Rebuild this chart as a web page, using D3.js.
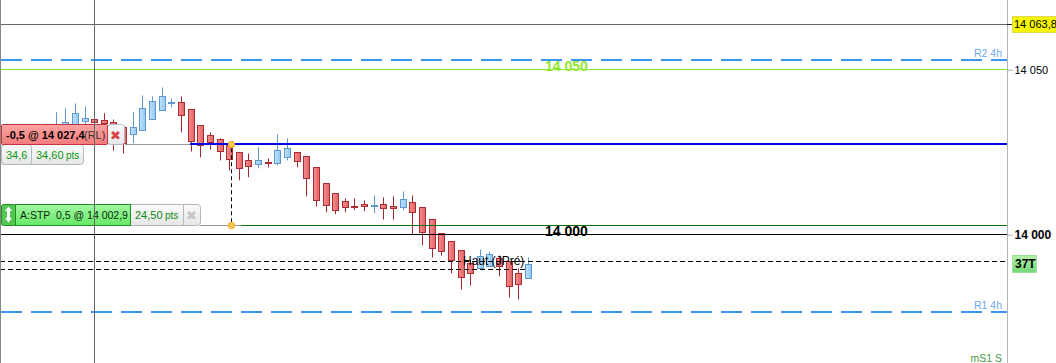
<!DOCTYPE html>
<html>
<head>
<meta charset="utf-8">
<script src="https://cdn.jsdelivr.net/npm/d3@7"></script>
<style>
  html, body { margin: 0; padding: 0; background: #fff; overflow: hidden; }
  svg { display: block; font-family: 'Liberation Sans', Arial, sans-serif; }
</style>
</head>
<body>
<div id="graph"></div>
<script>
// Prices, as points above 14 000
const bars = d3.range(51)
const opens = [31, 30.1, 30, 31.6, 34.3, 34.9, 34.6, 34, 32.5, 30.4, 31.6, 34.9, 37.7, 39.6, 40.1, 38, 33.1, 30.1, 28.9, 27.1, 24.9, 22.5, 21.3, 22, 21.6, 23.4, 24.9, 23.7, 20.4, 15.5, 12.5, 10.1, 8.6, 9.2, 8.6, 9.2, 8.6, 8.3, 9.8, 8.3, 4.6, 0.4, -2, -4.8, -8.7, -10.2, -9.6, -7.2, -8.1, -11.7, -13.2]
const closes = [32.5, 33.1, 34, 36.8, 35.2, 34, 33.7, 28.6, 27.7, 32.5, 38.3, 40.4, 41.9, 40, 36.2, 28.3, 27.1, 28, 25.2, 22.8, 20.1, 20.7, 22.5, 21.8, 25.5, 26.2, 22.2, 17.1, 10.4, 8.9, 7.4, 8.3, 8.3, 8.6, 8.9, 8, 8, 10.7, 6.8, 0.7, -4.2, -5.1, -7.8, -12.9, -11.7, -6.6, -6, -9.6, -15.7, -15.1, -9]
const highs = [33.7, 37.1, 38.3, 39.8, 38.9, 37.7, 36.8, 34.9, 32.5, 37.1, 42.2, 41.9, 44.6, 41.3, 41.9, 38, 33.1, 31, 29.2, 27.1, 24.9, 24.6, 26.5, 23.1, 30.4, 29.2, 24.9, 23.7, 20.4, 15.5, 12.5, 11, 11, 10.4, 11.9, 11.3, 11.6, 13.1, 11.9, 8.3, 4.6, 0.4, -2, -4.8, -7.8, -4.5, -5.1, -6.3, -8.1, -10.2, -6.9]
const lows = [30, 28, 28, 29, 30, 30, 30, 25.5, 24.6, 27.7, 31.6, 34.9, 37.7, 38.6, 31, 25.2, 23.4, 25.8, 22.5, 19.5, 16.5, 17.4, 20.1, 20.4, 21, 22.5, 20.4, 11.6, 8.6, 6.8, 6.2, 6.8, 7.4, 7.1, 6.5, 4.6, 4.6, 7.4, 0.1, -3.2, -6.9, -6.3, -11.7, -16.6, -15.4, -10.2, -9.6, -12.6, -19, -19.6, -13.2]

const axisTicks = [14050, 14000]
const lastHigh = 14063.8
const levelR2 = 14052.8
const levelR1 = 13976.5
const levelMid = 14050
const levelRound = 14000
const orderStop = 14027.4
const orderTarget = 14002.7
const dashedLevels = [13991.9, 13989.5]

const plotRight = 1007
const svg = d3
  .select('#graph')
  .append('svg')
  .attr('width', 1056)
  .attr('height', 363)

const defs = svg.append('defs')
function gradient(id, from, to, horizontal) {
  const g = defs
    .append('linearGradient')
    .attr('id', id)
    .attr('x1', 0)
    .attr('y1', 0)
    .attr('x2', horizontal ? 1 : 0)
    .attr('y2', horizontal ? 0 : 1)
  g.append('stop').attr('offset', 0).attr('stop-color', from)
  g.append('stop').attr('offset', 1).attr('stop-color', to)
}
gradient('downFill', '#f49090', '#e26262', true)
gradient('upFill', '#c0e2fb', '#8fc8f4', true)
gradient('redBox', '#ffa3a3', '#f47c7c', false)
gradient('greenBox', '#a2f8a2', '#66e866', false)
gradient('greyBox', '#fbfbfb', '#e6e6e6', false)
gradient('tagGreen', '#b4f0a8', '#74d878', false)

const x = d3.scalePoint().domain(bars).range([46, 528])
const y = d3.scaleLinear().domain([14000, 14050]).range([234.7, 69.7])
const crisp = (v) => Math.round(y(v) - 0.5) + 0.5
const cx = (i) => Math.round(x(i)) + 0.5

// candles first, the level lines sit on top of them
const candle = svg
  .append('g')
  .selectAll('g')
  .data(bars)
  .join('g')

candle
  .append('line')
  .attr('x1', (i) => cx(i))
  .attr('x2', (i) => cx(i))
  .attr('y1', (i) => y(14000 + highs[i]))
  .attr('y2', (i) => y(14000 + lows[i]))
  .attr('stroke', (i) => (closes[i] >= opens[i] ? '#5f97d0' : '#a3262d'))
  .attr('stroke-width', 1)

candle
  .append('rect')
  .attr('x', (i) => cx(i) - 3)
  .attr('width', 6)
  .attr('y', (i) => crisp(14000 + Math.max(opens[i], closes[i])))
  .attr('height', (i) =>
    Math.max(1, Math.round(Math.abs(opens[i] - closes[i]) * 3.3))
  )
  .attr('fill', (i) => (closes[i] >= opens[i] ? 'url(#upFill)' : 'url(#downFill)'))
  .attr('stroke', (i) => (closes[i] >= opens[i] ? '#5f97d0' : '#ad2c34'))
  .attr('stroke-width', 1)

function level(value, x1, x2, color, width, dash) {
  const ly = width === 2 ? Math.round(y(value)) : crisp(value)
  svg
    .append('line')
    .attr('x1', x1)
    .attr('x2', x2)
    .attr('y1', ly)
    .attr('y2', ly)
    .attr('stroke', color)
    .attr('stroke-width', width)
    .attr('stroke-dasharray', dash || null)
}

level(lastHigh, 0, plotRight, '#666', 1)
level(levelR2, 1, plotRight, '#3b96f0', 2, '21 9')
level(levelMid, 0, plotRight, '#86e82e', 1)
level(orderStop, 125, 241, '#999', 1)
level(orderStop, 190, plotRight, '#0000e6', 2)
level(orderTarget, 200, 241, '#999', 1)
level(orderTarget, 241, plotRight, '#0a6e0a', 1)
level(levelRound, 0, plotRight, '#000', 1)
level(dashedLevels[0], 0, plotRight, '#000', 1, '5 3')
level(dashedLevels[1], 0, 527, '#000', 1, '5 3')
level(levelR1, 1, plotRight, '#3b96f0', 2, '21 9')

// link between the order markers
svg
  .append('line')
  .attr('x1', 231.5)
  .attr('x2', 231.5)
  .attr('y1', y(orderStop) + 4)
  .attr('y2', y(orderTarget) - 3)
  .attr('stroke', '#000')
  .attr('stroke-dasharray', '4 3')

svg
  .selectAll('.marker')
  .data([orderStop, orderTarget])
  .join('circle')
  .attr('class', 'marker')
  .attr('cx', 231.5)
  .attr('cy', (d) => crisp(d))
  .attr('r', 3.2)
  .attr('fill', '#fbc94e')
  .attr('stroke', '#f0a62a')

function label(text, px, py, opts = {}) {
  return svg
    .append('text')
    .attr('x', px)
    .attr('y', py)
    .attr('font-size', opts.size || 11)
    .attr('font-weight', opts.bold ? 'bold' : 'normal')
    .attr('fill', opts.color || '#000')
    .attr('text-anchor', opts.anchor || 'start')
    .text(text)
}

label('14 050', 545, 71, { size: 14, bold: true, color: '#8fe82e' })
label('14 000', 545, 236, { size: 14, bold: true })
label('Haut (JPré)', 463, 265, { size: 12 })
label('R2 4h', 1002, 57, { size: 10.5, color: '#6aa8ee', anchor: 'end' })
label('R1 4h', 1002, 309, { size: 10.5, color: '#6aa8ee', anchor: 'end' })
label('mS1 S', 1002, 362, { size: 10.5, color: '#3f9a3f', anchor: 'end' })

function box(bx, by, w, h, fill, stroke, r) {
  svg
    .append('rect')
    .attr('x', bx + 0.5)
    .attr('y', by + 0.5)
    .attr('width', w)
    .attr('height', h)
    .attr('rx', r || 0)
    .attr('fill', fill)
    .attr('stroke', stroke)
}

// position panel
box(1, 144, 82, 20, 'url(#greyBox)', '#aebabf', 3)
box(1, 144, 30, 20, 'url(#greyBox)', '#aebabf', 3)
box(107, 124, 17, 20, 'url(#greyBox)', '#aebabf', 3)
box(1, 124, 106, 20, 'url(#redBox)', '#c5353d', 1)
label('-0,5 @ 14 027,4', 6, 139, { bold: true })
label('(RL)', 84, 139, { color: '#333' })
label('✖', 115.5, 140, { size: 13, color: '#d8444a', anchor: 'middle' }).style(
  'font-family',
  'DejaVu Sans'
)
label('34,6', 6, 159, { color: '#0d9a12' })
label('34,60', 36, 159, { color: '#0d9a12' })
label('pts', 66, 159, { size: 10, color: '#0d9a12' })

// stop order panel
box(130, 204, 70, 21, 'url(#greyBox)', '#aebabf', 3)
box(130, 204, 53, 21, 'url(#greyBox)', '#aebabf', 0)
box(15, 204, 115, 21, 'url(#greenBox)', '#1c8f1c', 0)
box(1, 204, 14, 21, '#52c852', '#1c8f1c', 2)
svg
  .append('path')
  .attr('d', 'M8.5 206.5 L12 211 H10 V218 H12 L8.5 222.5 L5 218 H7 V211 H5 Z')
  .attr('fill', '#fff')
label('A:STP  0,5 @ 14 002,9', 20, 219, { size: 10.5, color: '#0b2a0b' }).style(
  'white-space',
  'pre'
)
label('24,50', 135, 219, { color: '#0d8a12' })
label('pts', 165, 219, { size: 10, color: '#0d8a12' })
label('✖', 191.5, 220, { size: 13, color: '#c6c6c6', anchor: 'middle' }).style(
  'font-family',
  'DejaVu Sans'
)

// vertical rules
svg.append('line').attr('x1', 0.5).attr('x2', 0.5).attr('y1', 0).attr('y2', 363).attr('stroke', '#888')
svg.append('line').attr('x1', 94.5).attr('x2', 94.5).attr('y1', 0).attr('y2', 363).attr('stroke', '#666')

// price axis
const spaced = d3.formatLocale({
  decimal: ',',
  thousands: ' ',
  grouping: [3],
  currency: ['', ''],
})
const axis = svg
  .append('g')
  .attr('transform', `translate(${plotRight + 0.5},0)`)
  .call(
    d3
      .axisRight(y)
      .tickValues(axisTicks)
      .tickSize(5)
      .tickPadding(2)
      .tickFormat(spaced.format(',.0f'))
  )
axis.select('.domain').attr('d', 'M0,0V363').attr('stroke', '#b5b5b5')
axis.selectAll('.tick line').attr('stroke', '#aaa')
axis
  .selectAll('.tick text')
  .attr('font-family', 'Liberation Sans, Arial, sans-serif')
  .attr('font-size', (d) => (d === 14000 ? 12 : 11))
  .attr('font-weight', (d) => (d === 14000 ? 'bold' : 'normal'))
  .attr('fill', '#000')

svg
  .append('line')
  .attr('x1', plotRight)
  .attr('x2', 1012)
  .attr('y1', crisp(lastHigh))
  .attr('y2', crisp(lastHigh))
  .attr('stroke', '#222')

box(1012, 16, 50, 16, '#f6f600', '#dcdc50', 0)
label(spaced.format(',.1f')(lastHigh), 1014, 28, { size: 11 })
box(1012, 255, 24, 17, 'url(#tagGreen)', '#9be09b', 0)
label('37T', 1015, 268, { bold: true, size: 12 })
</script>
</body>
</html>
